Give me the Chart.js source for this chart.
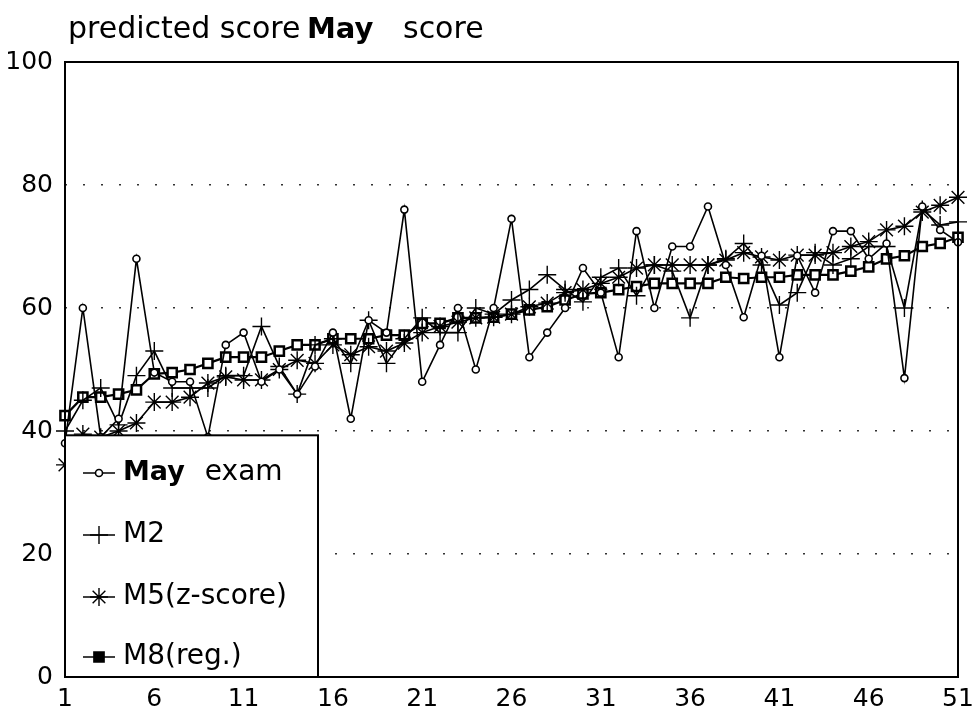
<!DOCTYPE html>
<html>
<head>
<meta charset="utf-8">
<script src="https://cdn.jsdelivr.net/npm/chart.js@4.4.1/dist/chart.umd.min.js"></script>
<style>
  html, body { margin: 0; padding: 0; background: #fff; }
  #wrap { position: relative; width: 974px; height: 718px; }
</style>
</head>
<body>
<div id="wrap"><canvas id="c" width="974" height="718"></canvas></div>
<script>
// ---- data ----
const categories = Array.from({length: 51}, (_, i) => String(i + 1));
const seriesNames = ["May exam", "M2", "M5(z-score)", "M8(reg.)"];
const mayExam = [38,60,39,42,68,49.5,48,48,39,54, 56,48,50,46,50.5,56,42,58,56,76,
  48,54,60,50,60,74.5,52,56,60,66.5, 62.5,52,72.5,60,70,70,76.5,67,58.5,68.5,
  52,68.5,62.5,72.5,72.5,68,70.5,48.6,76.5,72.7, 70.7];
const m2 = [40,45,47,41,49,53,47,47,47,49, 49,57,50.5,46,54,55,51,58,51,55,
  58.4,56,56,60,59,61.3,63,65.4,63,61, 65,66.5,62,67,66,58.4,67,68,70.5,67,
  60.5,62.5,69,67,68,70,70,60,76,73.5, 74];
const m5 = [34.5,39.5,39,40,41.3,44.7,44.7,45.5,47.8,48.8, 48.3,48.3,50,51.5,51,54,52.4,53.7,53,54.3,
  56,57,57.7,58.4,58.5,59,60.2,60.8,62.5,63, 64,65,66.5,67,67,67,67,67.8,69,68.3,
  67.8,68.6,68.6,69,70,70.8,72.7,73.3,75.6,76.7, 78];
const m8 = [42.5,45.5,45.5,46,46.7,49.3,49.5,50,51,52, 52,52,53,54,54,55,55,55,55.6,55.6,
  57.5,57.5,58.4,58.4,58.5,59,59.7,60.2,61.3,62.3, 62.5,63,63.5,64,64,64,64,65,64.8,65,
  65,65.4,65.4,65.4,66,66.7,68,68.5,70,70.5, 71.5];
const yTicks = [0, 20, 40, 60, 80, 100];
const xTickEvery = 5;

const FONT = "'DejaVu Sans', sans-serif";

const framePlugin = {
  id: 'frame',
  beforeDraw(chart) {
    const ctx = chart.ctx;
    ctx.save();
    ctx.fillStyle = '#000';
    ctx.textBaseline = 'alphabetic';
    ctx.font = "30px " + FONT;
    ctx.fillText("predicted score", 68, 38);
    ctx.font = "bold 29px " + FONT;
    ctx.fillText("May", 307, 38);
    ctx.font = "30px " + FONT;
    ctx.fillText("score", 403, 38);
    ctx.restore();
  },
  afterDatasetsDraw(chart) {
    const ctx = chart.ctx;
    const a = chart.chartArea;
    ctx.save();
    // plot frame
    ctx.strokeStyle = '#000';
    ctx.lineWidth = 2;
    ctx.strokeRect(a.left, a.top, a.right - a.left, a.bottom - a.top);
    // legend box inside the plot
    const y40 = chart.scales.y.getPixelForValue(39.3);
    const lx = a.left, ly = y40, lw = 253, lh = a.bottom - y40;
    ctx.fillStyle = '#fff';
    ctx.fillRect(lx, ly, lw, lh);
    ctx.strokeRect(lx, ly, lw, lh);
    const rows = [473, 535, 597, 657];
    chart.data.datasets.forEach((ds, i) => {
      const cy = rows[i];
      const x0 = lx + 18, x1 = lx + 50, cx = (x0 + x1) / 2;
      ctx.strokeStyle = '#000';
      ctx.lineWidth = 1.5;
      ctx.beginPath(); ctx.moveTo(x0, cy); ctx.lineTo(x1, cy); ctx.stroke();
      const opts = {
        pointStyle: ds.pointStyle, radius: ds.pointRadius, rotation: 0,
        borderWidth: ds.pointBorderWidth
      };
      ctx.fillStyle = i === 3 ? '#000' : '#fff';
      ctx.lineWidth = ds.pointBorderWidth;
      Chart.helpers.drawPoint(ctx, opts, cx, cy);
      ctx.fillStyle = '#000';
      ctx.textBaseline = 'middle';
      let tx = lx + 58;
      if (i === 0) {
        ctx.font = "bold 27px " + FONT;
        ctx.fillText("May", tx, cy);
        tx += ctx.measureText("May").width + 20;
        ctx.font = "28px " + FONT;
        ctx.fillText("exam", tx, cy);
      } else {
        ctx.font = "28px " + FONT;
        ctx.fillText(ds.label, tx, cy);
      }
    });
    ctx.restore();
  }
};

const common = { borderColor: '#000', pointBorderColor: '#000', borderWidth: 1.6, tension: 0, fill: false };

new Chart(document.getElementById('c'), {
  type: 'line',
  data: {
    labels: categories,
    datasets: [
      Object.assign({}, common, { label: seriesNames[0], data: mayExam, pointStyle: 'circle', pointRadius: 3.5, pointBorderWidth: 1.6, pointBackgroundColor: '#fff' }),
      Object.assign({}, common, { label: seriesNames[1], data: m2, pointStyle: 'cross', pointRadius: 9, pointBorderWidth: 1.4, pointBackgroundColor: '#fff' }),
      Object.assign({}, common, { label: seriesNames[2], data: m5, pointStyle: 'star', pointRadius: 9, pointBorderWidth: 1.4, pointBackgroundColor: '#fff' }),
      Object.assign({}, common, { label: seriesNames[3], data: m8, borderWidth: 2.2, pointStyle: 'rect', pointRadius: 6.5, pointBorderWidth: 2.5, pointBackgroundColor: '#fff' })
    ]
  },
  options: {
    responsive: false,
    animation: false,
    events: [],
    layout: { padding: { top: 62, right: 0, left: 0, bottom: 0 } },
    plugins: { legend: { display: false }, title: { display: false }, tooltip: { enabled: false } },
    scales: {
      x: {
        offset: false,
        grid: { display: false, drawTicks: false },
        border: { display: false },
        afterFit(s) { s.height = 41; s.paddingRight = 16; s.paddingLeft = 0; },
        ticks: {
          autoSkip: false, maxRotation: 0, padding: 7, color: '#000',
          font: { family: FONT, size: 25 },
          callback(v, i) { return i % xTickEvery === 0 ? categories[i] : ''; }
        }
      },
      y: {
        min: 0, max: 100,
        afterFit(s) { s.width = 65; },
        afterBuildTicks(s) { s.ticks = yTicks.map(v => ({ value: v })); },
        grid: { color: '#333', lineWidth: 1.5, drawTicks: false },
        border: { display: false, dash: [2, 16] },
        ticks: { padding: 12, color: '#000', font: { family: FONT, size: 25 } }
      }
    }
  },
  plugins: [framePlugin]
});
</script>
</body>
</html>
